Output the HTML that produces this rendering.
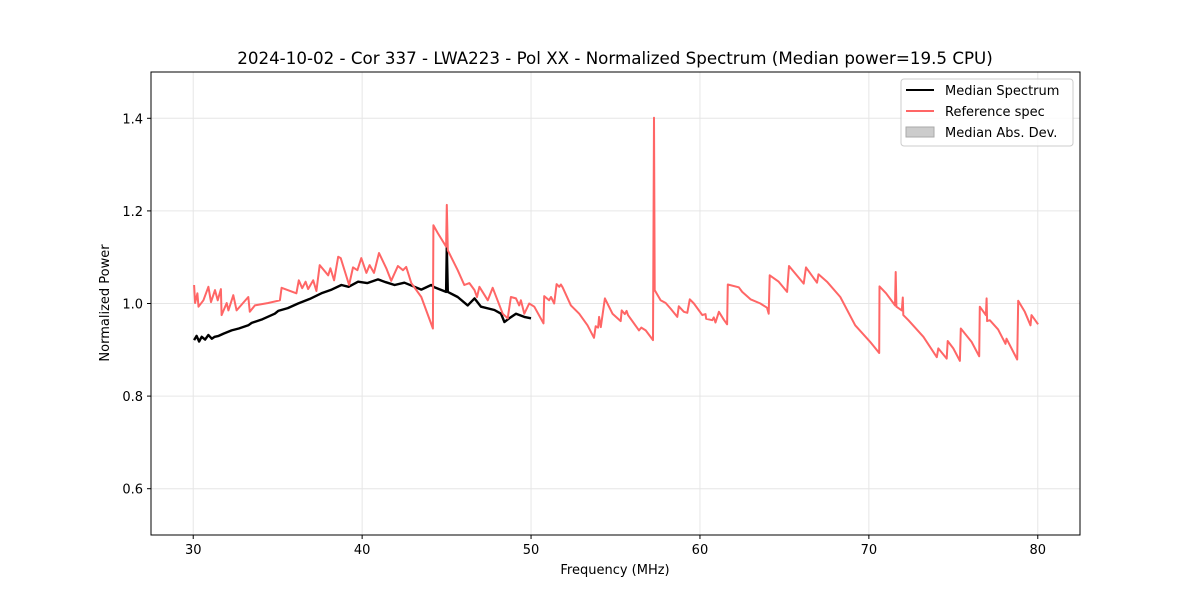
<!DOCTYPE html>
<html><head><meta charset="utf-8"><style>
body{margin:0;background:#fff;font-family:"Liberation Sans","DejaVu Sans",sans-serif}
svg text{font-family:"DejaVu Sans","Liberation Sans",sans-serif}
</style></head><body>
<svg id="chart" width="1200" height="600" viewBox="0 0 1200 600" xmlns="http://www.w3.org/2000/svg">
<rect width="1200" height="600" fill="#fff"/>
<g id="grid"></g>
<g id="series"></g>
<rect x="151" y="72" width="929" height="463" fill="none" stroke="#000" stroke-width="1"/>
<g id="ticks"></g>
<text x="615" y="64" font-size="16.7" text-anchor="middle">2024-10-02 - Cor 337 - LWA223 - Pol XX - Normalized Spectrum (Median power=19.5 CPU)</text>
<text x="615" y="574" font-size="13" text-anchor="middle">Frequency (MHz)</text>
<text transform="translate(109,303) rotate(-90)" font-size="13" text-anchor="middle">Normalized Power</text>
<g>
<rect x="901" y="79" width="172" height="67" rx="3" fill="#fff" fill-opacity="0.8" stroke="#ccc"/>
<line x1="906" y1="90" x2="934" y2="90" stroke="#000" stroke-width="2"/>
<text x="945" y="95" font-size="13">Median Spectrum</text>
<line x1="906" y1="111" x2="934" y2="111" stroke="#ff6666" stroke-width="2"/>
<text x="945" y="116" font-size="13">Reference spec</text>
<rect x="906" y="127" width="28" height="10" fill="#cccccc" stroke="#aaa"/>
<text x="945" y="137" font-size="13">Median Abs. Dev.</text>
</g>
</svg>
<script>
const xTicks=[30,40,50,60,70,80];
const yTicks=[0.6,0.8,1.0,1.2,1.4];
const refFreq=[30.05,30.11,30.25,30.31,30.60,30.90,31.05,31.29,31.45,31.64,31.68,31.98,32.08,32.37,32.57,33.26,33.35,33.65,34.44,35.13,35.23,36.11,36.25,36.45,36.65,36.80,37.10,37.29,37.49,37.99,38.12,38.34,38.58,38.73,39.23,39.46,39.72,39.95,40.25,40.44,40.70,41.00,41.43,41.72,42.12,42.42,42.61,42.91,43.50,44.19,44.22,44.48,44.97,45.01,45.07,45.66,46.05,46.35,46.65,46.80,46.94,47.44,47.73,48.32,48.62,48.81,49.11,49.30,49.40,49.60,49.89,50.19,50.74,50.78,51.07,51.18,51.37,51.51,51.67,51.77,51.87,52.36,52.85,53.34,53.73,53.83,53.97,54.03,54.13,54.37,54.82,55.31,55.37,55.55,55.66,55.74,56.39,56.53,56.79,57.22,57.28,57.32,57.67,57.97,58.26,58.66,58.75,59.05,59.25,59.40,59.64,60.14,60.33,60.37,60.73,60.82,60.92,61.12,61.41,61.61,61.65,62.30,62.50,62.99,63.58,63.97,64.07,64.13,64.66,65.16,65.27,66.14,66.28,66.93,67.02,67.52,68.31,69.19,70.08,70.61,70.63,71.02,71.55,71.59,71.63,71.95,72.01,72.04,72.34,73.23,74.02,74.11,74.61,74.67,75.00,75.39,75.44,76.08,76.53,76.57,76.93,76.97,77.00,77.16,77.65,78.09,78.15,78.78,78.84,79.23,79.57,79.63,80.02];
const refPower=[1.040,1.001,1.022,0.993,1.007,1.036,1.003,1.029,1.007,1.031,0.975,1.001,0.985,1.018,0.985,1.014,0.982,0.996,1.001,1.007,1.034,1.022,1.050,1.033,1.047,1.031,1.050,1.027,1.083,1.061,1.076,1.050,1.101,1.098,1.040,1.078,1.072,1.098,1.066,1.083,1.066,1.109,1.076,1.049,1.081,1.072,1.079,1.044,1.014,0.946,1.169,1.152,1.123,1.213,1.115,1.072,1.040,1.044,1.029,1.014,1.036,1.007,1.034,0.978,0.968,1.014,1.011,0.996,1.007,0.978,1.000,0.993,0.957,1.016,1.007,1.014,1.000,1.042,1.036,1.041,1.035,0.996,0.978,0.953,0.926,0.951,0.948,0.971,0.949,1.011,0.978,0.962,0.985,0.977,0.984,0.975,0.942,0.948,0.942,0.921,1.401,1.029,1.007,1.001,0.989,0.971,0.994,0.982,0.980,1.009,1.000,0.975,0.977,0.967,0.964,0.970,0.959,0.982,0.965,0.955,1.041,1.035,1.025,1.009,1.000,0.991,0.978,1.061,1.047,1.025,1.081,1.043,1.078,1.045,1.063,1.047,1.014,0.953,0.917,0.893,1.037,1.022,0.996,1.068,0.993,0.985,1.013,0.975,0.964,0.928,0.884,0.903,0.881,0.919,0.903,0.876,0.946,0.917,0.886,0.993,0.975,1.011,0.962,0.964,0.944,0.913,0.924,0.879,1.006,0.982,0.953,0.975,0.955];
const medFreq=[30.05,30.20,30.35,30.50,30.70,30.90,31.10,31.27,31.50,31.80,32.27,32.70,33.26,33.46,34.10,34.83,35.03,35.60,36.21,36.90,37.59,38.20,38.77,39.20,39.76,40.30,40.94,41.40,41.92,42.50,43.10,43.50,44.09,44.28,44.97,45.01,45.07,45.66,46.25,46.65,47.04,47.83,48.22,48.42,48.71,49.11,49.60,50.00];
const medPower=[0.921,0.930,0.918,0.928,0.922,0.932,0.924,0.928,0.930,0.935,0.942,0.946,0.953,0.958,0.966,0.978,0.984,0.990,1.000,1.010,1.022,1.030,1.040,1.036,1.047,1.044,1.052,1.046,1.040,1.045,1.036,1.030,1.040,1.035,1.025,1.123,1.025,1.014,0.996,1.011,0.993,0.986,0.978,0.960,0.968,0.978,0.971,0.968];
const X0=151,X1=1080,XMIN=27.5,XMAX=82.5,Y0=535,Y1=72,YMIN=0.5,YMAX=1.5;
const sx=f=>X0+(f-XMIN)/(XMAX-XMIN)*(X1-X0);
const sy=v=>Y0-(v-YMIN)/(YMAX-YMIN)*(Y0-Y1);
const NS="http://www.w3.org/2000/svg";
const grid=document.getElementById('grid'),ticks=document.getElementById('ticks'),series=document.getElementById('series');
function mk(t,a){const e=document.createElementNS(NS,t);for(const k in a)e.setAttribute(k,a[k]);return e;}
xTicks.forEach(t=>{
 const g=mk('line',{x1:sx(t),x2:sx(t),y1:Y1,y2:Y0,stroke:'#e6e6e6','stroke-width':1});
 
 
 grid.appendChild(g);
 const tk=mk('line',{x1:sx(t),x2:sx(t),y1:Y0,y2:Y0+4,stroke:'#000'});
 
 
 ticks.appendChild(tk);
 const tx=mk('text',{x:sx(t),y:Y0+19,'font-size':13,'text-anchor':'middle'});
 
 
 tx.textContent=t;ticks.appendChild(tx);
});
yTicks.forEach(t=>{
 const g=mk('line',{x1:X0,x2:X1,y1:sy(t),y2:sy(t),stroke:'#e6e6e6','stroke-width':1});
 
 
 grid.appendChild(g);
 const tk=mk('line',{x1:X0-4,x2:X0,y1:sy(t),y2:sy(t),stroke:'#000'});
 
 
 ticks.appendChild(tk);
 const tx=mk('text',{x:X0-8,y:sy(t)+5,'font-size':13,'text-anchor':'end'});
 
 
 tx.textContent=t.toFixed(1);ticks.appendChild(tx);
});
function pts(fs,vs){return fs.map((f,i)=>sx(f).toFixed(1)+','+sy(vs[i]).toFixed(1)).join(' ');}
const med=mk('polyline',{points:pts(medFreq,medPower),fill:'none',stroke:'#000','stroke-width':2.4,'stroke-linejoin':'round'});


series.appendChild(med);
const ref=mk('polyline',{points:pts(refFreq,refPower),fill:'none',stroke:'#ff6666','stroke-width':2,'stroke-linejoin':'round'});


series.appendChild(ref);
</script>
</body></html>
